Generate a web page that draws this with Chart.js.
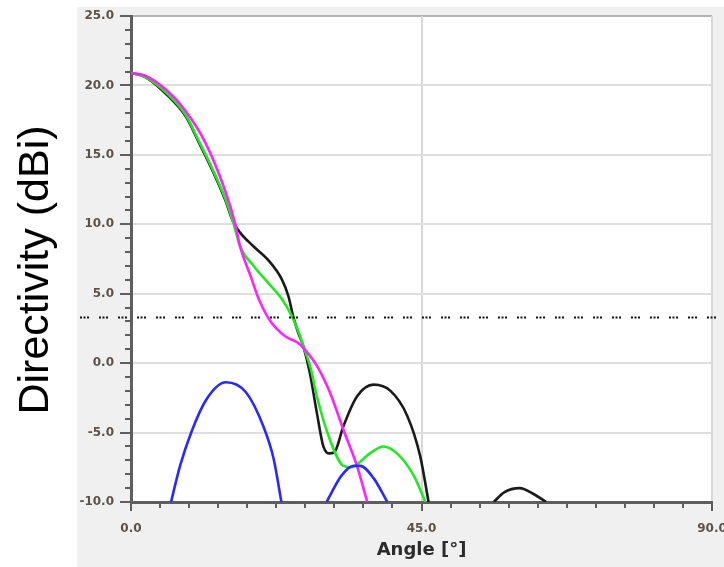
<!DOCTYPE html>
<html>
<head>
<meta charset="utf-8">
<script src="https://cdn.jsdelivr.net/npm/chart.js@4"></script>
<style>
  html, body { margin: 0; padding: 0; background: #fff; }
</style>
</head>
<body>
<canvas id="chart" width="724" height="567"></canvas>
<script>
// angles in degrees, directivity in dBi
const blackAngle = [0, 2.2, 5.4, 8.5, 10.5, 12.6, 14.6, 15.8, 16.9, 19.0, 21.2, 23.4, 24.4, 25.1, 25.9, 26.7, 27.7, 28.8, 29.8, 30.8, 31.6, 32.9, 35.0, 37.6, 40.2, 42.8, 44.8, 46.1];
const blackDir   = [20.9, 20.6, 19.4, 17.75, 15.9, 13.9, 11.75, 10.2, 9.4, 8.4, 7.45, 6.0, 4.8, 3.4, 2.2, 1.2, -0.7, -3.6, -6.0, -6.5, -6.35, -4.55, -2.4, -1.55, -2.0, -3.8, -6.7, -10];
const blackSideAngle = [56.2, 57.8, 60.2, 62.5, 64.3];
const blackSideDir   = [-10, -9.3, -9.0, -9.46, -10];

const greenAngle = [0, 2.2, 5.4, 8.5, 10.5, 12.6, 14.6, 15.8, 16.9, 19.0, 21.2, 23.4, 24.9, 26.0, 26.7, 27.8, 28.8, 30.8, 32.9, 34.2, 35.0, 37.0, 39.1, 41.2, 43.8, 45.6];
const greenDir   = [20.9, 20.6, 19.5, 17.85, 16.0, 14.0, 11.85, 10.2, 8.4, 7.0, 5.8, 4.6, 3.4, 2.2, 1.2, -0.3, -2.4, -5.5, -7.4, -7.5, -7.3, -6.5, -6.0, -6.5, -8.1, -10];

const magentaAngle = [0, 2.2, 5.4, 8.4, 11.5, 14.6, 16.1, 16.9, 18.5, 19.8, 21.2, 22.5, 24.0, 25.9, 26.7, 28.8, 30.8, 32.9, 35.0, 36.6];
const magentaDir   = [20.9, 20.7, 19.7, 18.2, 15.9, 12.4, 10.1, 8.4, 6.3, 4.6, 3.3, 2.5, 1.9, 1.45, 1.1, -0.2, -2.1, -4.8, -7.4, -10];

const blueAngle = [6.2, 7.6, 9.4, 11.7, 14.7, 17.8, 20.5, 22.1, 23.3];
const blueDir   = [-10, -7.4, -4.9, -2.6, -1.38, -2.1, -4.55, -6.9, -10];
const blueSideAngle = [30.3, 32.6, 34.5, 35.5, 37.6, 39.7];
const blueSideDir   = [-10, -8.1, -7.4, -7.4, -8.3, -10];

const thresholdDir = 3.3;
const xTickLabels = [0, 45, 90];
const yTickLabels = [25, 20, 15, 10, 5, 0, -5, -10];

function pts(xs, ys) {
  return xs.map((x, i) => ({ x: x, y: ys[i] }));
}

function line(data, color) {
  return {
    data: data,
    borderColor: color,
    borderWidth: 2.6,
    pointRadius: 0,
    fill: false,
    cubicInterpolationMode: 'monotone'
  };
}

const tickFont = { family: 'DejaVu Sans', size: 12, weight: 'bold' };
const tickColor = '#5c5248';

const panelPlugin = {
  id: 'panel',
  beforeDraw(chart) {
    const c = chart.ctx, a = chart.chartArea;
    c.save();
    c.fillStyle = '#fff';
    c.fillRect(0, 0, chart.width, chart.height);
    c.fillStyle = '#f0f0f0';
    c.fillRect(77, 7, chart.width - 77, chart.height - 7);
    c.fillStyle = '#fff';
    c.fillRect(a.left, a.top, a.right - a.left, a.bottom - a.top);
    // top and right frame
    c.strokeStyle = '#b4b4b4';
    c.lineWidth = 2;
    c.beginPath();
    c.moveTo(a.left, a.top);
    c.lineTo(a.right, a.top);
    c.stroke();
    c.strokeStyle = '#d8d8d8';
    c.beginPath();
    c.moveTo(a.right, a.top);
    c.lineTo(a.right, a.bottom);
    c.stroke();
    c.restore();
  },
  afterDatasetsDraw(chart) {
    const c = chart.ctx, ys = chart.scales.y;
    const y = Math.round(ys.getPixelForValue(thresholdDir)) + 0.5;
    c.save();
    c.strokeStyle = '#111';
    c.lineWidth = 2;
    c.setLineDash([2, 1.5, 2, 1.5, 2, 10]);
    c.beginPath();
    c.moveTo(80, y);
    c.lineTo(chart.width, y);
    c.stroke();
    c.restore();
  },
  afterDraw(chart) {
    const c = chart.ctx, xs = chart.scales.x, ys = chart.scales.y;
    c.save();
    c.strokeStyle = '#5e5e5e';
    c.lineWidth = 2;
    xs.ticks.forEach(t => {
      const px = Math.round(xs.getPixelForValue(t.value));
      const len = xTickLabels.includes(t.value) ? 9 : 6;
      c.beginPath();
      c.moveTo(px, xs.top);
      c.lineTo(px, xs.top + len);
      c.stroke();
    });
    ys.ticks.forEach(t => {
      const py = Math.round(ys.getPixelForValue(t.value));
      const len = yTickLabels.includes(t.value) ? 11 : 6;
      c.beginPath();
      c.moveTo(ys.right, py);
      c.lineTo(ys.right - len, py);
      c.stroke();
    });
    // y axis title
    c.translate(36, 270);
    c.rotate(-Math.PI / 2);
    c.font = '43px "Liberation Sans"';
    c.fillStyle = '#000';
    c.textAlign = 'center';
    c.textBaseline = 'middle';
    c.fillText('Directivity (dBi)', 0, 0);
    c.restore();
  }
};

new Chart(document.getElementById('chart').getContext('2d'), {
  type: 'line',
  data: {
    datasets: [
      line(pts(blueAngle, blueDir), '#2828ff'),
      line(pts(blueSideAngle, blueSideDir), '#2828ff'),
      line(pts(magentaAngle, magentaDir), '#ff22ff'),
      line(pts(greenAngle, greenDir), '#22e822'),
      line(pts(blackAngle, blackDir), '#1a1a1a'),
      line(pts(blackSideAngle, blackSideDir), '#1a1a1a')
    ]
  },
  options: {
    responsive: false,
    animation: false,
    layout: { padding: { top: 16, right: 12, left: 0, bottom: 0 } },
    plugins: { legend: { display: false }, tooltip: { enabled: false } },
    scales: {
      x: {
        type: 'linear',
        min: 0,
        max: 90,
        afterFit: s => { s.height = 65; s.paddingLeft = 0; s.paddingRight = 0; },
        ticks: {
          stepSize: 4.5,
          autoSkip: false,
          maxRotation: 0,
          padding: 20,
          font: tickFont,
          color: tickColor,
          callback: v => xTickLabels.includes(v) ? v.toFixed(1) : ''
        },
        grid: {
          drawTicks: false,
          lineWidth: 2,
          color: ctx => (ctx.tick && ctx.tick.value === 45) ? '#d8d8d8' : 'transparent'
        },
        border: { display: true, color: '#5e5e5e', width: 3 },
        title: {
          display: true,
          text: 'Angle [°]',
          font: { family: 'DejaVu Sans', size: 18, weight: 'bold' },
          color: '#2b2b2b',
          padding: { top: 0, bottom: 6 }
        }
      },
      y: {
        min: -10,
        max: 25,
        afterFit: s => { s.width = 131; s.paddingTop = 0; s.paddingBottom = 0; },
        ticks: {
          stepSize: 1,
          autoSkip: false,
          padding: 17,
          font: tickFont,
          color: tickColor,
          callback: v => yTickLabels.includes(v) ? v.toFixed(1) : ''
        },
        grid: {
          drawTicks: false,
          lineWidth: 2,
          color: ctx => (ctx.tick && ctx.tick.value % 5 === 0 && ctx.tick.value > -10 && ctx.tick.value < 25) ? '#dedede' : 'transparent'
        },
        border: { display: true, color: '#5e5e5e', width: 3 }
      }
    }
  },
  plugins: [panelPlugin]
});
</script>
</body>
</html>
